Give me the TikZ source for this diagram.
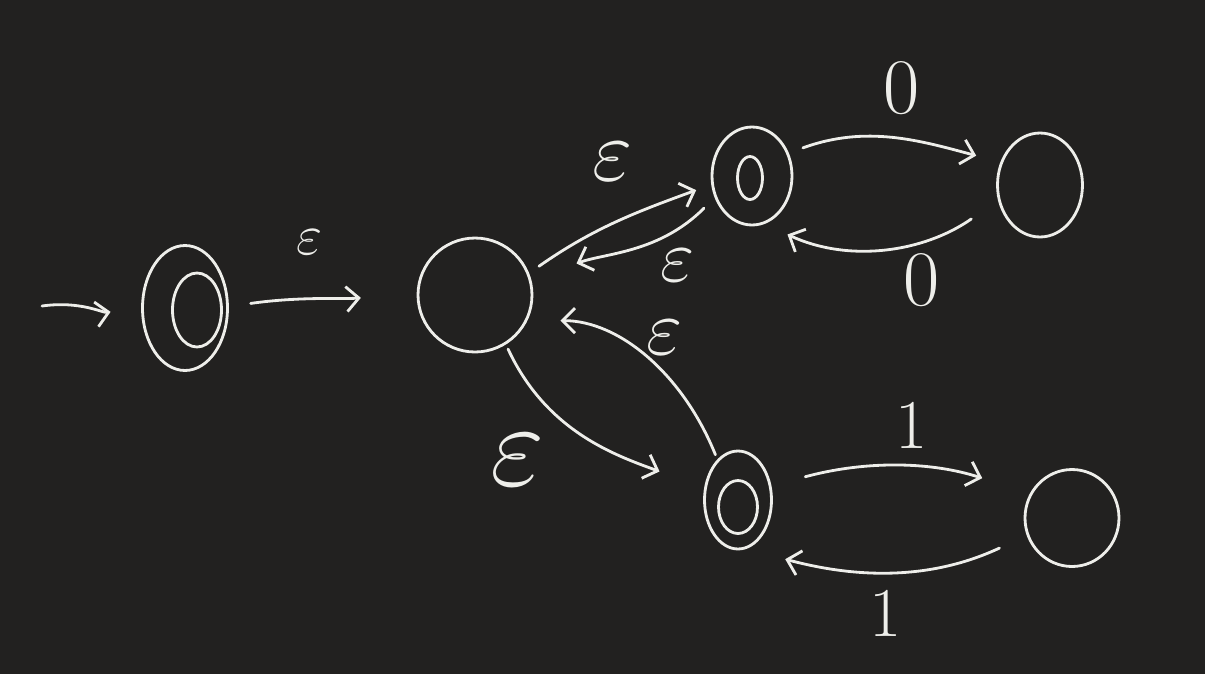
\documentclass[tikz,border=0pt]{standalone}
\usepackage{tikz}
\usetikzlibrary{shapes.geometric,arrows.meta}
\definecolor{board}{RGB}{34,33,32}
\definecolor{chalk}{RGB}{238,238,234}
\tikzset{
  state/.style 2 args={draw=chalk, ellipse, line width=1.6pt,
    minimum width=#1, minimum height=#2, inner sep=0pt},
  edge/.style={draw=chalk, line width=1.6pt, line cap=round,
    -{Straight Barb[length=2.5mm,width=5mm,line width=1.6pt]}},
  lbl/.style={text=chalk, font=\Huge, inner sep=0pt},
}
\begin{document}
\begin{tikzpicture}[x=0.02cm, y=0.02cm]
    % Фон
    \fill[board] (0,0) rectangle (1205,-674);
    \useasboundingbox (0,0) rectangle (1205,-674);
    % Состояния
    \node[state={1.7cm}{2.5cm}] (q0) at (185,-308) {};
    \node[state={0.98cm}{1.48cm}] (q0in) at (197,-310) {};
    \node[state={2.28cm}{2.28cm}] (q1) at (475,-295) {};
    \node[state={1.6cm}{1.96cm}] (q2) at (752,-176) {};
    \node[state={0.5cm}{0.86cm}] (q2in) at (750,-178) {};
    \node[state={1.7cm}{2.08cm}] (q3) at (1040,-185) {};
    \node[state={1.34cm}{1.96cm}] (q4) at (738,-500) {};
    \node[state={0.78cm}{1.06cm}] (q4in) at (738,-507) {};
    \node[state={1.88cm}{1.94cm}] (q5) at (1072,-518) {};
    % Начальная стрелка
    \coordinate (start) at (42,-306);
    \draw[edge, shorten >=0.62cm] (start) to[out=8,in=190] (q0.178);
    % Переходы
    \draw[edge, shorten <=0.44cm, shorten >=1.12cm] (q0.2) to[out=8,in=185] (q1.178);
    \draw[edge, shorten <=0.24cm, shorten >=0.32cm] (q1.22) to[out=35,in=200] (q2.192);
    \draw[edge, shorten <=0.3cm, shorten >=0.96cm] (q2.210) to[out=225,in=20] (q1.15);
    \draw[edge, shorten <=0.1cm, shorten >=0.95cm] (q1.302) to[out=295,in=160] (q4.160);
    \draw[edge, shorten <=0.1cm, shorten >=0.66cm] (q4.117) to[out=112,in=0] (q1.334);
    \draw[edge, shorten <=0.3cm, shorten >=0.5cm] (q2.32) to[out=20,in=165] (q3.150);
    \draw[edge, shorten <=0.65cm, shorten >=0.5cm] (q3.200) to[out=215,in=335] (q2.285);
    \draw[edge, shorten <=0.7cm, shorten >=1.0cm] (q4.23) to[out=15,in=162] (q5.150);
    \draw[edge, shorten <=0.6cm, shorten >=0.8cm] (q5.201) to[out=205,in=345] (q4.280);
    % Метки
    \node[lbl, scale=1.3] (e01) at (310,-242) {$\varepsilon$};
    \node[lbl, scale=2.0] (e12) at (613,-162) {$\varepsilon$};
    \node[lbl, scale=1.7] (e21) at (678,-265) {$\varepsilon$};
    \node[lbl, scale=1.8] (e41) at (665,-338) {$\varepsilon$};
    \node[lbl, scale=2.7] (e14) at (518,-460) {$\varepsilon$};
    \node[lbl, scale=1.8] (z23) at (902,-88) {$0$};
    \node[lbl, scale=1.8] (z32) at (922,-280) {$0$};
    \node[lbl, scale=1.6] (o45) at (912,-426) {$1$};
    \node[lbl, scale=1.6] (o54) at (886,-614) {$1$};
\end{tikzpicture}
\end{document}
